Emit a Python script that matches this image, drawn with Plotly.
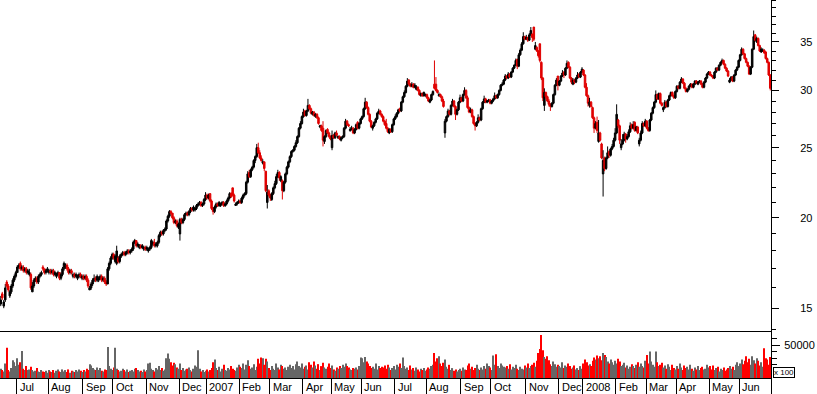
import math
import plotly.graph_objects as go

# ---------------- data ----------------
opens = [
15.2,15.7,15.1,15.4,16.3,16.1,15.6,15.8,16.1,16.4,
16.6,16.8,17.1,17.3,17.0,17.1,16.9,17.0,16.8,16.7,
16.7,15.8,16.1,16.4,16.5,16.3,16.6,16.7,17.1,17.0,
16.8,16.9,16.8,16.9,16.8,16.9,16.7,16.6,16.7,16.8,
16.5,16.7,17.0,17.1,17.2,17.0,16.8,16.9,16.6,16.7,
16.6,16.5,16.6,16.7,16.5,16.6,16.5,16.6,16.4,15.9,
16.0,16.2,16.4,16.5,16.4,16.4,16.5,16.6,16.4,16.5,
16.3,16.2,17.0,17.3,17.6,17.8,17.4,17.3,17.6,17.4,
17.7,17.8,17.9,17.8,17.9,18.0,17.9,18.0,18.1,18.5,
18.6,18.3,18.2,18.3,18.2,18.1,18.2,18.1,18.0,18.1,
18.2,18.4,18.5,18.3,18.3,18.5,18.9,19.1,19.0,19.2,
19.3,19.8,20.1,20.4,20.3,20.0,19.7,19.8,19.4,19.0,
19.9,19.7,19.9,20.2,20.3,20.2,20.4,20.6,20.5,20.5,
20.6,20.8,20.9,21.0,20.8,20.9,21.2,21.5,21.3,21.6,
21.1,20.6,20.4,20.7,20.9,20.8,20.8,20.9,21.0,20.8,
20.9,21.1,21.3,21.6,22.0,21.5,20.8,20.9,21.0,21.1,
21.0,21.3,21.5,21.6,22.4,23.1,22.8,23.3,23.5,24.0,
24.3,25.0,24.6,24.2,23.8,23.9,23.2,21.0,21.8,21.5,
21.2,21.6,22.0,22.3,22.8,23.1,22.5,22.5,21.8,22.4,
23.0,23.5,23.9,24.3,24.7,24.8,25.1,25.4,25.9,26.6,
27.0,27.6,28.1,27.7,28.1,28.6,28.3,27.8,28.0,27.6,
27.8,27.5,26.7,26.8,26.6,25.5,25.9,26.5,26.2,25.9,
25.0,26.0,25.8,26.2,25.8,25.9,25.6,25.8,25.9,26.6,
27.2,26.9,26.4,26.5,26.6,26.2,26.5,27.1,26.6,27.0,
27.4,27.6,28.3,28.9,28.4,27.8,27.2,26.6,26.8,27.1,
27.4,27.9,28.1,27.8,27.6,27.2,27.0,26.6,26.2,26.5,
26.3,26.9,27.4,27.6,27.9,28.3,28.1,28.9,29.4,29.8,
30.4,31.0,30.6,30.4,30.6,30.3,30.1,30.3,30.0,29.5,
29.7,29.5,29.5,29.6,29.3,28.9,29.1,29.6,30.6,30.6,
30.0,29.5,29.6,29.4,29.0,26.2,27.2,27.6,28.1,27.8,
28.6,29.0,28.5,27.8,28.2,28.9,29.3,29.0,29.6,30.0,
29.3,28.4,28.0,28.2,27.6,27.0,26.8,27.1,27.5,27.3,
28.3,28.9,29.2,28.9,29.0,29.1,28.8,29.0,29.2,29.5,
29.3,29.6,30.0,30.5,30.6,31.0,31.4,31.2,31.6,31.3,
31.8,32.2,32.5,33.1,32.4,33.6,34.1,34.8,35.6,35.3,
35.5,35.2,35.8,35.9,36.7,34.2,34.4,34.0,34.8,32.8,
31.2,28.6,29.8,29.4,29.0,28.7,28.5,28.8,29.6,30.5,
31.4,30.5,30.9,31.4,31.8,31.5,32.2,32.8,32.3,31.2,
30.6,31.0,30.8,31.2,31.6,31.3,31.8,32.0,31.5,30.3,
29.5,28.6,28.9,28.4,27.5,26.6,27.1,25.5,26.2,25.3,
23.0,24.2,23.4,24.2,24.7,24.4,24.9,25.1,25.6,26.2,
27.3,26.8,25.0,25.3,25.6,26.1,25.7,25.9,26.3,26.9,
26.6,27.1,26.4,26.7,25.3,25.6,26.2,27.0,26.8,27.2,
26.6,26.4,27.3,27.9,28.4,28.9,29.6,29.2,29.7,28.8,
28.2,28.4,28.9,28.5,29.1,29.5,29.8,29.5,29.3,29.9,
30.4,30.2,30.8,31.1,30.7,30.2,29.9,30.1,30.4,30.6,
30.3,30.6,30.9,30.6,30.8,30.9,30.6,30.3,30.8,31.2,
31.6,31.8,31.5,31.4,31.2,31.8,32.2,32.0,32.5,32.8,
33.0,32.6,32.2,31.9,30.8,31.0,31.3,30.9,31.5,32.0,
32.3,33.0,33.6,34.2,33.7,33.2,32.8,32.4,31.6,32.3,
34.2,35.8,35.0,35.4,34.6,33.9,34.0,34.1,33.9,33.2,
32.8,31.5]

highs = [
15.6,15.8,15.4,16.2,16.4,16.2,15.9,16.2,16.5,16.7,
16.9,17.2,17.3,17.4,17.2,17.2,17.1,17.1,17.0,17.0,
16.8,16.3,16.5,16.6,16.6,16.7,16.8,16.9,17.2,17.0,
17.0,17.1,17.0,17.0,17.0,17.0,16.9,16.8,16.9,16.8,
16.8,17.1,17.4,17.3,17.3,17.1,17.0,17.0,16.8,16.8,
16.8,16.7,16.8,16.8,16.7,16.7,16.7,16.7,16.5,16.1,
16.3,16.5,16.7,16.6,16.7,16.6,16.7,16.7,16.6,16.6,
16.4,17.1,17.4,17.7,17.9,17.9,17.8,18.3,17.7,17.8,
17.9,18.0,18.0,18.0,18.1,18.1,18.1,18.2,18.6,18.7,
18.6,18.5,18.4,18.4,18.4,18.3,18.3,18.3,18.2,18.3,
18.7,18.6,18.7,18.5,18.6,19.0,19.2,19.2,19.3,19.4,
19.9,20.2,20.5,20.5,20.3,20.1,19.9,19.9,19.7,20.0,
20.0,20.0,20.3,20.4,20.4,20.5,20.7,20.7,20.8,20.7,
20.9,21.0,21.1,21.1,21.0,21.3,21.7,21.6,21.6,21.6,
21.2,20.7,20.8,21.0,21.0,21.1,21.0,21.1,21.1,21.0,
21.2,21.4,21.7,21.7,22.0,21.6,21.0,21.1,21.2,21.2,
21.4,21.6,21.7,22.5,23.2,23.3,23.4,23.6,24.1,24.4,
25.3,25.4,24.8,24.4,24.1,23.9,23.2,22.2,21.9,21.6,
21.7,22.1,22.5,23.0,23.3,23.2,22.9,22.6,22.5,23.1,
23.6,24.0,24.4,24.8,24.9,25.2,25.6,26.0,26.7,27.2,
27.7,28.3,28.2,28.2,29.2,28.7,28.4,28.1,28.1,27.9,
27.9,27.6,26.9,26.9,27.2,26.0,26.5,26.6,26.3,26.0,
26.4,26.1,26.3,26.4,26.0,26.0,25.9,26.0,26.7,27.4,
27.3,27.0,26.7,26.8,26.7,26.6,27.0,27.2,27.1,27.5,
27.7,28.4,29.3,29.0,28.5,27.9,27.3,26.9,27.2,27.5,
28.0,28.3,28.2,27.9,27.7,27.3,27.4,26.7,26.6,26.6,
27.0,27.5,27.8,28.0,28.3,28.4,29.0,29.5,30.0,30.5,
31.2,31.1,30.7,30.8,30.7,30.7,30.5,30.4,30.1,29.8,
29.8,29.9,29.7,29.7,29.4,29.2,29.7,30.0,33.0,31.3,
30.1,29.8,29.7,29.5,29.2,27.4,27.7,28.3,28.2,28.7,
29.2,29.1,28.6,28.3,29.0,29.6,29.4,29.7,30.3,30.1,
29.5,28.5,28.4,28.3,27.7,27.1,27.2,27.8,27.6,28.4,
29.0,29.5,29.3,29.1,29.2,29.2,29.1,29.3,29.8,29.6,
29.7,30.1,30.6,30.8,31.1,31.6,31.5,31.8,31.7,31.9,
32.3,32.6,33.2,33.2,33.8,34.3,35.0,36.1,35.7,35.8,
35.6,36.0,36.7,35.9,36.7,35.0,34.5,34.1,34.8,32.9,
31.3,30.2,29.9,29.5,29.2,28.8,28.9,29.7,30.6,31.2,
31.4,31.0,31.5,32.0,31.9,32.3,33.0,32.9,32.4,31.3,
31.2,31.1,31.3,31.8,31.7,31.9,32.3,32.1,31.6,30.7,
29.6,29.3,29.0,28.5,27.6,27.2,27.6,27.3,26.3,25.4,
24.8,24.3,24.3,25.1,24.8,25.0,25.3,25.8,26.6,28.7,
27.4,26.9,25.7,26.1,26.3,26.2,26.1,26.5,27.1,27.0,
27.2,27.2,26.8,26.8,25.8,26.4,27.2,27.1,27.4,27.3,
26.7,27.4,28.0,28.5,29.0,30.0,29.7,29.8,29.8,28.9,
28.5,29.1,29.0,29.2,29.6,29.9,29.9,29.6,30.0,30.5,
30.5,30.9,31.3,31.2,30.8,30.3,30.2,30.5,30.7,30.7,
30.7,31.0,31.0,30.9,31.0,31.0,30.7,30.9,31.3,31.7,
31.9,31.9,31.6,31.5,31.9,32.3,32.3,32.6,32.9,33.2,
33.1,32.7,32.3,32.0,31.2,31.4,31.4,31.6,32.1,32.4,
33.1,33.7,34.4,34.3,33.8,33.3,32.9,32.5,32.4,34.3,
36.3,35.9,35.6,35.5,34.7,34.4,34.3,34.2,34.0,33.3,
32.9,31.6]

lows = [
15.1,15.4,15.0,15.3,16.0,15.8,15.5,15.7,16.0,16.3,
16.5,16.8,17.0,16.9,16.9,16.8,16.8,16.7,16.7,16.6,
15.9,15.8,16.0,16.3,16.2,16.2,16.5,16.6,16.9,16.7,
16.7,16.8,16.7,16.7,16.7,16.6,16.6,16.5,16.6,16.4,
16.4,16.6,16.9,17.0,16.9,16.7,16.7,16.7,16.5,16.5,
16.5,16.4,16.5,16.5,16.4,16.4,16.4,16.3,16.0,15.9,
15.9,16.1,16.3,16.3,16.3,16.3,16.4,16.3,16.3,16.2,
16.1,16.2,16.9,17.2,17.5,17.5,17.3,17.2,17.3,17.3,
17.6,17.7,17.7,17.7,17.8,17.8,17.8,17.9,18.0,18.4,
18.2,18.2,18.1,18.1,18.1,18.0,18.0,18.0,17.9,18.0,
18.1,18.3,18.2,18.2,18.2,18.4,18.8,18.9,18.9,19.1,
19.2,19.7,20.0,20.2,19.9,19.6,19.6,19.4,19.3,18.6,
19.6,19.6,19.8,20.1,20.1,20.1,20.3,20.4,20.4,20.4,
20.5,20.7,20.8,20.7,20.7,20.8,21.1,21.2,21.2,21.0,
20.5,20.2,20.3,20.6,20.7,20.7,20.7,20.8,20.7,20.7,
20.8,21.0,21.2,21.3,21.4,21.0,20.8,20.8,20.9,20.9,
20.9,21.2,21.4,21.5,22.3,22.7,22.7,23.2,23.4,23.8,
24.2,24.5,24.1,23.9,23.7,23.2,21.7,20.6,21.4,21.1,
21.1,21.5,21.9,22.2,22.7,22.5,22.4,21.2,21.7,22.3,
22.9,23.4,23.8,24.2,24.6,24.7,25.0,25.3,25.8,26.5,
26.9,27.5,27.6,27.6,28.0,28.2,27.8,27.7,27.6,27.5,
27.4,26.9,26.6,26.3,25.1,25.3,25.8,26.1,25.8,25.6,
24.8,25.7,25.7,25.9,25.7,25.6,25.5,25.7,25.8,26.5,
26.8,26.7,26.3,26.4,26.1,26.1,26.4,26.5,26.5,26.9,
27.3,27.5,28.2,28.3,27.7,27.1,26.6,26.4,26.7,27.0,
27.3,27.8,27.7,27.5,27.1,26.8,26.5,26.2,26.1,26.2,
26.2,26.8,27.3,27.5,27.8,28.0,28.0,28.8,29.3,29.7,
30.3,30.5,30.3,30.3,30.2,30.2,30.0,29.9,29.5,29.4,
29.4,29.4,29.4,29.2,28.9,28.8,29.0,29.5,30.1,29.9,
29.7,29.4,29.3,28.9,28.4,25.8,27.1,27.5,27.7,27.7,
28.5,28.4,27.3,27.7,28.1,28.8,28.9,28.9,29.5,29.2,
28.3,27.9,27.9,27.5,26.9,26.4,26.7,27.0,27.2,27.2,
28.2,28.8,28.8,28.8,28.9,28.7,28.7,28.9,29.1,29.2,
29.2,29.5,29.9,30.4,30.5,30.9,31.1,31.1,31.2,31.2,
31.7,32.1,32.4,32.1,32.3,33.5,34.0,34.7,35.2,35.2,
35.0,35.1,35.7,35.0,35.1,34.1,33.9,33.3,32.8,31.0,
29.0,28.1,29.2,28.9,28.5,28.1,28.4,28.7,29.5,30.4,
30.0,30.4,30.8,31.3,31.2,31.4,32.1,32.2,31.1,30.6,
30.5,30.6,30.7,31.1,31.2,31.2,31.7,31.4,30.2,29.4,
28.5,28.4,28.4,27.4,26.2,26.5,26.2,25.4,25.5,24.1,
21.4,23.2,23.3,24.1,24.2,24.3,24.8,25.0,25.5,26.1,
26.6,25.3,24.8,25.2,25.5,25.4,25.6,25.8,26.2,26.5,
26.5,26.3,26.3,26.1,25.1,25.5,26.1,26.7,26.7,26.5,
26.3,26.3,27.2,27.8,28.3,28.8,29.1,29.1,28.7,28.5,
28.0,28.3,28.4,28.4,29.0,29.4,29.4,29.2,29.2,29.8,
30.1,30.1,30.7,30.6,30.1,29.8,29.8,30.0,30.3,30.2,
30.2,30.5,30.6,30.5,30.7,30.5,30.2,30.2,30.7,31.1,
31.5,31.4,31.3,31.1,31.1,31.7,31.9,31.9,32.4,32.7,
32.5,32.1,31.8,31.3,30.7,30.9,30.8,30.8,31.4,31.9,
32.2,32.9,33.5,33.6,33.1,32.7,32.3,31.5,31.5,32.2,
34.1,35.1,34.9,34.5,33.9,33.8,33.9,33.7,33.1,32.7,
31.4,30.0]

closes = [
15.4,15.5,15.3,16.0,16.1,15.9,15.8,16.1,16.4,16.6,
16.8,17.1,17.2,17.0,17.1,16.9,17.0,16.8,16.9,16.8,
16.0,16.1,16.4,16.5,16.3,16.6,16.7,16.8,17.0,16.8,
16.9,17.0,16.9,16.8,16.9,16.7,16.8,16.7,16.8,16.5,
16.7,17.0,17.3,17.2,17.0,16.8,16.9,16.8,16.7,16.6,
16.7,16.6,16.7,16.6,16.6,16.5,16.6,16.4,16.1,16.0,
16.2,16.4,16.5,16.4,16.6,16.5,16.6,16.4,16.5,16.3,
16.2,17.0,17.3,17.6,17.8,17.6,17.7,18.0,17.4,17.7,
17.8,17.9,17.8,17.9,18.0,17.9,18.0,18.1,18.5,18.6,
18.3,18.4,18.3,18.2,18.3,18.2,18.1,18.2,18.1,18.2,
18.6,18.5,18.3,18.4,18.5,18.9,19.1,19.0,19.2,19.3,
19.8,20.1,20.4,20.3,20.0,19.7,19.8,19.5,19.6,19.9,
19.7,19.9,20.2,20.3,20.2,20.4,20.6,20.5,20.7,20.6,
20.8,20.9,21.0,20.8,20.9,21.2,21.5,21.3,21.5,21.1,
20.6,20.4,20.7,20.9,20.8,21.0,20.9,21.0,20.8,20.9,
21.1,21.3,21.6,21.4,21.5,21.1,20.9,21.0,21.1,21.0,
21.3,21.5,21.6,22.4,23.0,22.8,23.3,23.5,24.0,24.3,
25.0,24.6,24.2,24.0,23.9,23.4,21.8,21.7,21.5,21.3,
21.6,22.0,22.3,22.8,23.1,22.7,22.8,21.8,22.4,23.0,
23.5,23.9,24.3,24.7,24.8,25.1,25.4,25.9,26.6,27.0,
27.6,28.0,27.7,28.1,28.6,28.3,27.9,28.0,27.7,27.8,
27.5,27.0,26.8,26.4,25.6,25.9,26.4,26.2,25.9,25.7,
26.0,25.8,26.2,26.0,25.9,25.7,25.8,25.9,26.6,27.2,
26.9,26.8,26.5,26.6,26.2,26.5,26.9,26.6,27.0,27.4,
27.6,28.3,28.9,28.4,27.8,27.2,26.7,26.8,27.1,27.4,
27.9,28.1,27.8,27.6,27.2,26.9,26.6,26.3,26.5,26.3,
26.9,27.4,27.6,27.9,28.2,28.1,28.9,29.4,29.8,30.4,
30.9,30.6,30.4,30.6,30.3,30.5,30.3,30.0,29.6,29.7,
29.5,29.8,29.6,29.3,29.0,29.1,29.6,29.9,30.2,30.0,
29.8,29.6,29.4,29.0,28.5,27.2,27.6,28.1,27.8,28.6,
29.0,28.5,27.8,28.2,28.9,29.3,29.0,29.6,30.0,29.3,
28.4,28.0,28.2,27.6,27.0,26.8,27.1,27.5,27.3,28.3,
28.9,29.2,28.9,29.0,29.1,28.8,29.0,29.2,29.5,29.3,
29.6,30.0,30.5,30.6,31.0,31.4,31.2,31.6,31.3,31.8,
32.2,32.5,33.0,32.4,33.6,34.1,34.8,35.6,35.3,35.5,
35.2,35.8,36.3,35.5,35.3,34.6,34.0,33.5,33.0,31.2,
29.3,29.8,29.4,29.0,28.7,28.5,28.8,29.6,30.5,31.0,
30.5,30.9,31.4,31.7,31.5,32.2,32.7,32.3,31.2,30.8,
31.0,30.8,31.2,31.5,31.3,31.8,32.1,31.5,30.3,29.5,
28.8,28.9,28.5,27.5,26.6,27.0,26.4,26.2,25.6,24.2,
24.0,23.4,24.2,24.6,24.4,24.9,25.1,25.6,26.2,27.8,
26.8,25.6,25.3,25.6,26.1,25.7,25.9,26.3,26.8,26.6,
26.9,26.4,26.7,26.2,25.6,26.2,27.0,26.8,27.2,26.6,
26.4,27.3,27.9,28.4,28.9,29.6,29.2,29.7,28.8,28.6,
28.4,28.9,28.5,29.1,29.5,29.8,29.5,29.3,29.9,30.4,
30.2,30.8,31.1,30.7,30.2,29.9,30.1,30.4,30.6,30.3,
30.6,30.9,30.7,30.8,30.9,30.6,30.3,30.8,31.2,31.6,
31.8,31.5,31.4,31.2,31.8,32.2,32.0,32.5,32.8,33.0,
32.6,32.2,31.9,31.4,31.0,31.3,30.9,31.5,32.0,32.3,
33.0,33.6,34.2,33.7,33.2,32.8,32.4,31.6,32.3,34.2,
35.6,35.2,35.4,34.6,34.0,34.2,34.1,33.8,33.2,32.8,
31.5,30.2]

# volume in thousands of axis units (the axis itself is "x 100")
volume_k = [
14,12,10,22,46,12,10,15,27,24,
18,30,20,24,41,14,12,18,12,13,
17,12,10,11,15,10,9,12,10,9,
11,8,12,10,9,12,8,11,13,10,
9,13,10,12,9,13,8,11,10,9,
12,10,13,11,9,12,10,14,12,21,
19,15,13,12,16,12,15,11,10,13,
12,47,18,14,12,16,46,14,12,10,
11,14,12,10,13,9,11,12,10,14,
15,12,10,11,9,13,10,12,22,23,
14,12,10,15,13,18,12,15,11,13,
30,37,29,24,19,23,21,16,14,22,
12,15,11,13,14,16,12,10,14,19,
17,42,14,10,12,9,11,13,10,12,
15,24,28,15,12,17,10,14,20,12,
11,15,13,18,14,12,11,16,20,17,
15,22,13,20,27,18,14,16,21,12,
17,29,22,31,30,20,29,25,15,12,
18,14,12,22,16,13,20,18,14,16,
12,17,20,15,18,13,21,25,18,16,
22,14,17,19,13,24,20,16,25,19,
14,21,12,18,23,16,14,17,22,15,
19,13,11,16,14,18,15,20,17,22,
18,16,13,12,15,14,16,13,18,31,
30,24,32,25,22,18,15,17,14,22,
13,18,15,17,16,19,14,20,16,12,
15,18,13,20,17,22,15,31,18,14,
16,12,19,13,15,11,16,13,10,14,
12,15,11,13,16,14,18,20,38,25,
30,33,22,18,23,28,17,14,20,12,
15,11,13,10,12,14,11,16,13,12,
19,22,14,17,12,15,20,14,12,16,
13,18,14,22,18,16,12,34,20,36,
18,15,22,19,17,16,18,14,21,13,
17,15,20,14,12,17,14,13,19,16,
22,15,18,20,23,17,26,38,44,65,
42,32,29,33,27,21,18,25,21,17,
20,18,16,24,15,19,17,22,18,14,
16,19,13,15,12,18,14,22,28,24,
19,21,18,26,31,28,34,30,33,27,
38,35,32,25,22,28,24,20,26,22,
29,25,18,20,23,16,19,14,17,21,
18,15,20,24,17,22,18,16,26,35,
22,40,25,20,17,40,24,18,20,23,
16,19,14,21,17,12,20,15,13,18,
14,22,16,12,19,15,17,13,20,14,
11,16,13,18,12,15,17,13,14,20,
16,18,13,19,12,15,17,10,14,12,
16,11,13,15,18,14,17,12,20,24,
18,22,28,21,26,33,24,29,20,33,
27,22,30,26,19,24,17,45,30,28,
20,32]

month_labels = ["Jul", "Aug", "Sep", "Oct", "Nov", "Dec", "2007", "Feb", "Mar",
                "Apr", "May", "Jun", "Jul", "Aug", "Sep", "Oct", "Nov", "Dec",
                "2008", "Feb", "Mar", "Apr", "May", "Jun"]
month_first_bar = [11, 32, 55, 75, 97, 119, 137, 159, 179, 201, 220, 240,
                   262, 283, 306, 326, 349, 371, 387, 409, 429, 449, 471, 491]
first_label = "Jun"
first_label_bar = -11

price_major = [15, 20, 25, 30, 35]
price_minor = [14, 16, 17, 18, 19, 21, 22, 23, 24, 26, 27, 28, 29, 31, 32, 33, 34,
               36, 37, 38, 39, 40]
price_range = [13.95, 40.0]
vol_major = [50000]
vol_minor = [20000, 30000, 40000, 60000]
vol_max = 69700

# ---------------- figure ----------------
W, H = 817, 394
ML, MR, MT, MB = 0, 46, 0, 16
PH = H - MT - MB  # 378

n = len(closes)
xs = list(range(n))
volume = [v * 1000 for v in volume_k]
RED = "#e00000"
vol_colors = ["#666666" if c >= o else "#ff0000" for o, c in zip(opens, closes)]

FONT = "Liberation Sans, Arial, sans-serif"

fig = go.Figure()
fig.add_trace(go.Candlestick(
    x=xs, open=opens, high=highs, low=lows, close=closes,
    increasing=dict(line=dict(color="black", width=1), fillcolor="black"),
    decreasing=dict(line=dict(color=RED, width=1), fillcolor=RED),
    whiskerwidth=0, showlegend=False, xaxis="x", yaxis="y", hoverinfo="skip"))
fig.add_trace(go.Bar(
    x=xs, y=volume, marker=dict(color=vol_colors, line=dict(width=0)),
    showlegend=False, xaxis="x2", yaxis="y2", hoverinfo="skip"))

xr = [-0.5, n - 0.5]
price_bottom = 1 - 331 / PH
vol_top = 1 - 332 / PH

fig.update_layout(
    width=W, height=H,
    margin=dict(l=ML, r=MR, t=MT, b=MB, pad=0, autoexpand=False),
    paper_bgcolor="white", plot_bgcolor="white",
    font=dict(family=FONT, size=11, color="black"),
    bargap=0.3, boxgap=0.0, boxgroupgap=0.0,
    xaxis=dict(domain=[0, 1], anchor="y", range=xr, showticklabels=False,
               ticks="", showgrid=False, zeroline=False, showline=True,
               linecolor="black", linewidth=1, rangeslider=dict(visible=False),
               matches="x2"),
    yaxis=dict(domain=[price_bottom, 1], anchor="x", type="log", side="right",
               range=[math.log10(price_range[0]), math.log10(price_range[1])],
               tickmode="array", tickvals=price_major,
               ticktext=[str(v) for v in price_major],
               ticks="outside", ticklen=7, tickcolor="black", tickwidth=1,
               ticklabelstandoff=19,
               minor=dict(tickmode="array", tickvals=price_minor, ticks="outside",
                          ticklen=4, tickcolor="black", showgrid=False),
               showgrid=False, zeroline=False, showline=True, linecolor="black",
               linewidth=1, tickfont=dict(size=11), automargin=False),
    xaxis2=dict(domain=[0, 1], anchor="y2", range=xr,
                tickmode="array",
                tickvals=[b - 0.5 for b in month_first_bar] + [n - 0.5],
                ticktext=["" for _ in month_first_bar] + [""],
                ticks="outside", ticklen=16, tickcolor="black", tickwidth=1,
                showgrid=False, zeroline=False, showline=True,
                linecolor="black", linewidth=1, automargin=False),
    yaxis2=dict(domain=[0, vol_top], anchor="x2", side="right",
                range=[0, vol_max], tickmode="array", tickvals=vol_major,
                ticktext=[str(v) for v in vol_major],
                ticks="outside", ticklen=8, tickcolor="black",
                ticklabelstandoff=2,
                minor=dict(tickmode="array", tickvals=vol_minor, ticks="outside",
                           ticklen=5, tickcolor="black", showgrid=False),
                showgrid=False, zeroline=False, showline=True,
                linecolor="black", linewidth=1, tickfont=dict(size=11),
                automargin=False),
)

annotations = []
for lab, b in zip([first_label] + month_labels, [first_label_bar] + month_first_bar):
    annotations.append(dict(
        text=lab, xref="x2", x=b - 0.5, xanchor="left", xshift=1,
        yref="paper", y=0, yanchor="top", yshift=-1, showarrow=False,
        font=dict(family=FONT, size=11, color="black")))
annotations.append(dict(
    text="x 100", xref="paper", x=1 + 2 / (W - ML - MR), xanchor="left",
    yref="paper", y=0, yanchor="bottom", showarrow=False,
    font=dict(family=FONT, size=8, color="black"),
    bordercolor="black", borderwidth=1, borderpad=0, bgcolor="white"))
fig.update_layout(annotations=annotations)

fig.write_html(
    "out.html",
    config={"displayModeBar": False},
    post_script="document.body.style.margin='0';document.body.style.padding='0';"
                "document.body.style.overflow='hidden';")
